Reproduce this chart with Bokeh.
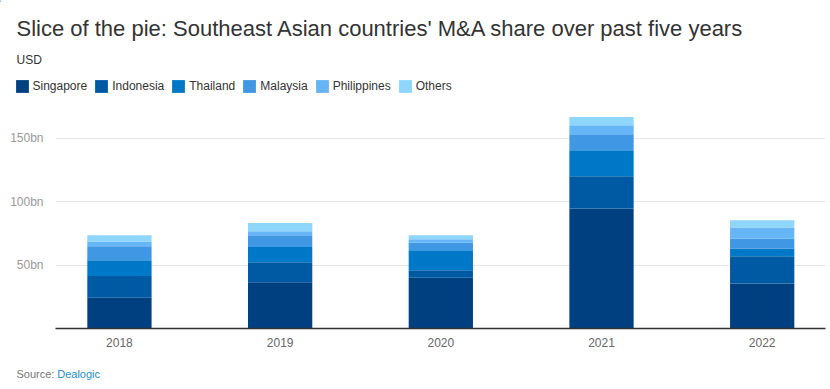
from bokeh.plotting import figure
from bokeh.layouts import column
from bokeh.models import Range1d, FixedTicker, Legend, LegendItem, ColumnDataSource
from bokeh.core.properties import value
from bokeh.embed import file_html
from bokeh.resources import INLINE

years = ["2018", "2019", "2020", "2021", "2022"]
countries = ["Singapore", "Indonesia", "Thailand", "Malaysia", "Philippines", "Others"]
singapore = [24.2, 36.5, 40.0, 94.7, 35.5]
indonesia = [17.3, 15.8, 6.0, 25.5, 21.6]
thailand = [12.4, 12.1, 15.8, 20.5, 6.0]
malaysia = [11.1, 9.2, 5.8, 12.7, 7.9]
philippines = [3.4, 3.2, 2.9, 7.1, 8.7]
others = [5.3, 6.5, 3.1, 6.5, 5.8]
colors = ["#004080", "#005aa3", "#0078c8", "#4097e3", "#66b5f6", "#8fd6fb"]
y_ticks = [50, 100, 150]
y_tick_labels = ["50bn", "100bn", "150bn"]
title_text = "Slice of the pie: Southeast Asian countries' M&A share over past five years"
subtitle_text = "USD"
source_label = "Source:"
source_name = "Dealogic"

FONT = "Liberation Sans"
W = 826


def blank(height):
    f = figure(width=W, height=height, output_backend="svg", toolbar_location=None,
               x_range=Range1d(0, W), y_range=Range1d(height, 0),
               x_axis_type=None, y_axis_type=None,
               min_border_left=0, min_border_right=0, min_border_top=0,
               min_border_bottom=0, frame_align=False)
    f.outline_line_color = None
    f.xgrid.grid_line_color = None
    f.ygrid.grid_line_color = None
    return f


# ---- header: title, unit, legend
HH = 102
header = blank(HH)
header.text(x=[16], y=[28], text=[title_text], text_font=value(FONT),
            text_font_size="22px", text_color="#333333", text_baseline="alphabetic")
header.text(x=[16], y=[59], text=[subtitle_text], text_font=value(FONT),
            text_font_size="12px", text_color="#333333", text_baseline="alphabetic")
# legend swatches: renderers placed outside the visible range, used only for the legend
dummies = [header.vbar(x=[-100], top=[1], bottom=[0], width=1, color=c, line_color=None)
           for c in colors]
legend = Legend(items=[LegendItem(label=c, renderers=[r]) for c, r in zip(countries, dummies)],
                orientation="horizontal", location=(13.5, 8),
                glyph_width=16, glyph_height=16, label_standoff=3, spacing=6,
                padding=0, margin=0, label_height=16,
                label_text_font=FONT, label_text_font_size="12px",
                label_text_color="#333333", border_line_color=None,
                background_fill_alpha=0)
header.add_layout(legend, "center")

# ---- main chart
src = ColumnDataSource(dict(
    x=list(range(len(years))),
    Singapore=singapore, Indonesia=indonesia, Thailand=thailand,
    Malaysia=malaysia, Philippines=philippines, Others=others,
))

p = figure(width=W, height=250, output_backend="svg", toolbar_location=None,
           x_range=Range1d(-0.398, 4.394), y_range=Range1d(0, 172.1),
           min_border_left=55, min_border_right=1, min_border_top=8,
           min_border_bottom=24, frame_align=False)
p.outline_line_color = None

p.vbar_stack(countries, x="x", width=0.4, source=src, color=colors, line_color=None)

p.xaxis.ticker = FixedTicker(ticks=list(range(len(years))))
p.xaxis.major_label_overrides = {i: y for i, y in enumerate(years)}
p.xaxis.major_tick_line_color = None
p.xaxis.minor_tick_line_color = None
p.xaxis.axis_line_color = "#333333"
p.xaxis.axis_line_width = 1.5
p.xaxis.major_label_standoff = 3
p.xaxis.major_label_text_font = FONT
p.xaxis.major_label_text_font_size = "12px"
p.xaxis.major_label_text_color = "#666666"

p.yaxis.ticker = FixedTicker(ticks=y_ticks)
p.yaxis.major_label_overrides = {t: l for t, l in zip(y_ticks, y_tick_labels)}
p.yaxis.axis_line_color = None
p.yaxis.major_tick_line_color = None
p.yaxis.minor_tick_line_color = None
p.yaxis.major_label_standoff = 6
p.yaxis.major_label_text_font = FONT
p.yaxis.major_label_text_font_size = "12px"
p.yaxis.major_label_text_color = "#999999"

p.xgrid.grid_line_color = None
p.ygrid.ticker = FixedTicker(ticks=y_ticks)
p.ygrid.grid_line_color = "#e6e6e6"

# ---- footer: source
FH = 33
footer = blank(FH)
footer.text(x=[16], y=[21], text=[source_label], text_font=value(FONT),
            text_font_size="11px", text_color="#777777", text_baseline="alphabetic")
footer.text(x=[56.7], y=[21], text=[source_name], text_font=value(FONT),
            text_font_size="11px", text_color="#1a8ed0", text_baseline="alphabetic")

layout = column(header, p, footer, spacing=0)
open("out.html", "w").write(file_html(layout, INLINE))
